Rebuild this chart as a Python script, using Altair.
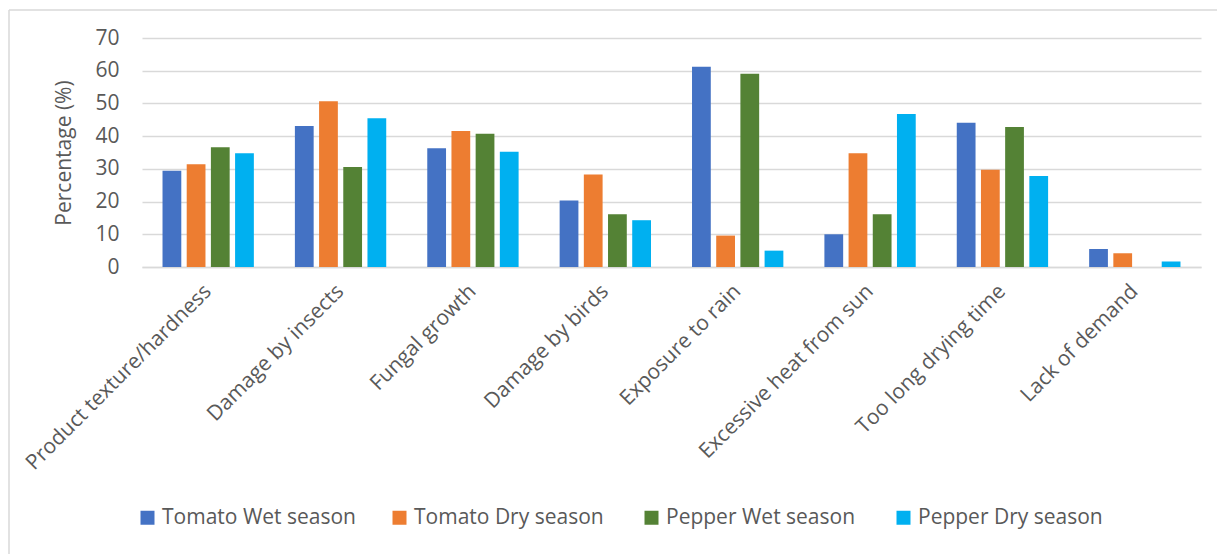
import altair as alt
import pandas as pd

categories = [
    "Product texture/hardness",
    "Damage by insects",
    "Fungal growth",
    "Damage by birds",
    "Exposure to rain",
    "Excessive heat from sun",
    "Too long drying time",
    "Lack of demand",
]
series = ["Tomato Wet season", "Tomato Dry season", "Pepper Wet season", "Pepper Dry season"]
colors = ["#4472C4", "#ED7D31", "#548235", "#00B0F0"]

tomato_wet = [29.4, 43.1, 36.3, 20.3, 61.2, 10.0, 44.1, 5.5]
tomato_dry = [31.4, 50.7, 41.6, 28.3, 9.6, 34.8, 29.7, 4.2]
pepper_wet = [36.6, 30.6, 40.7, 16.1, 59.1, 16.1, 42.8, 0.0]
pepper_dry = [34.8, 45.5, 35.2, 14.3, 5.0, 46.8, 27.8, 1.7]

rows = []
for name, vals in zip(series, [tomato_wet, tomato_dry, pepper_wet, pepper_dry]):
    for cat, v in zip(categories, vals):
        rows.append({"Problem": cat, "Series": name, "Value": v})
df = pd.DataFrame(rows)

FONT = "Open Sans"
GREY = "#595959"

bars = alt.Chart(df).mark_bar().encode(
    x=alt.X(
        "Problem:N",
        sort=categories,
        title=None,
        scale=alt.Scale(paddingInner=0.31, paddingOuter=0.155),
        axis=alt.Axis(
            labelAngle=-45,
            labelAlign="right",
            labelBaseline="middle",
            labelFontSize=21,
            labelColor=GREY,
            labelFont=FONT,
            labelPadding=21,
            labelLimit=400,
            ticks=False,
            domainColor="#d9d9d9",
            domainWidth=1.5,
            grid=False,
        ),
    ),
    xOffset=alt.XOffset("Series:N", sort=series, scale=alt.Scale(paddingInner=0.224)),
    y=alt.Y(
        "Value:Q",
        title="Percentage (%)",
        scale=alt.Scale(domain=[0, 70]),
        axis=alt.Axis(
            values=[0, 10, 20, 30, 40, 50, 60, 70],
            labelFontSize=21,
            labelColor=GREY,
            labelFont=FONT,
            labelPadding=23,
            ticks=False,
            domain=False,
            gridColor="#d9d9d9",
            gridWidth=1.5,
            titleFontSize=21,
            titleFont=FONT,
            titleColor=GREY,
            titleFontWeight="normal",
            titlePadding=20,
        ),
    ),
    color=alt.Color(
        "Series:N",
        sort=series,
        scale=alt.Scale(domain=series, range=colors),
        legend=alt.Legend(
            title=None,
            orient="none",
            legendX=-5,
            legendY=469,
            direction="horizontal",
            columns=4,
            symbolType="square",
            symbolSize=196,
            symbolStrokeWidth=0,
            labelFontSize=21,
            labelFont=FONT,
            labelColor=GREY,
            labelLimit=400,
            columnPadding=33,
            gridAlign="all",
            labelOffset=4,
        ),
    ),
)

# outer frame lines around the chart
frame = alt.Chart(alt.Data(values=[{}])).mark_rule(color="#d9d9d9", strokeWidth=1.5).encode(
    x=alt.value(-133), x2=alt.value(1100), y=alt.value(-28)
)
frame_left = alt.Chart(alt.Data(values=[{}])).mark_rule(color="#d9d9d9", strokeWidth=1.5).encode(
    x=alt.value(-133), y=alt.value(-28), y2=alt.value(560)
)

chart = (
    alt.layer(frame, frame_left, bars)
    .properties(
        width=1059,
        height=229,
        autosize=alt.AutoSizeParams(type="none"),
        padding={"left": 142, "top": 38, "right": 16, "bottom": 287},
        background="white",
    )
    .configure_view(stroke=None)
)

chart.save("out.html", embed_options={"renderer": "svg", "actions": False})
